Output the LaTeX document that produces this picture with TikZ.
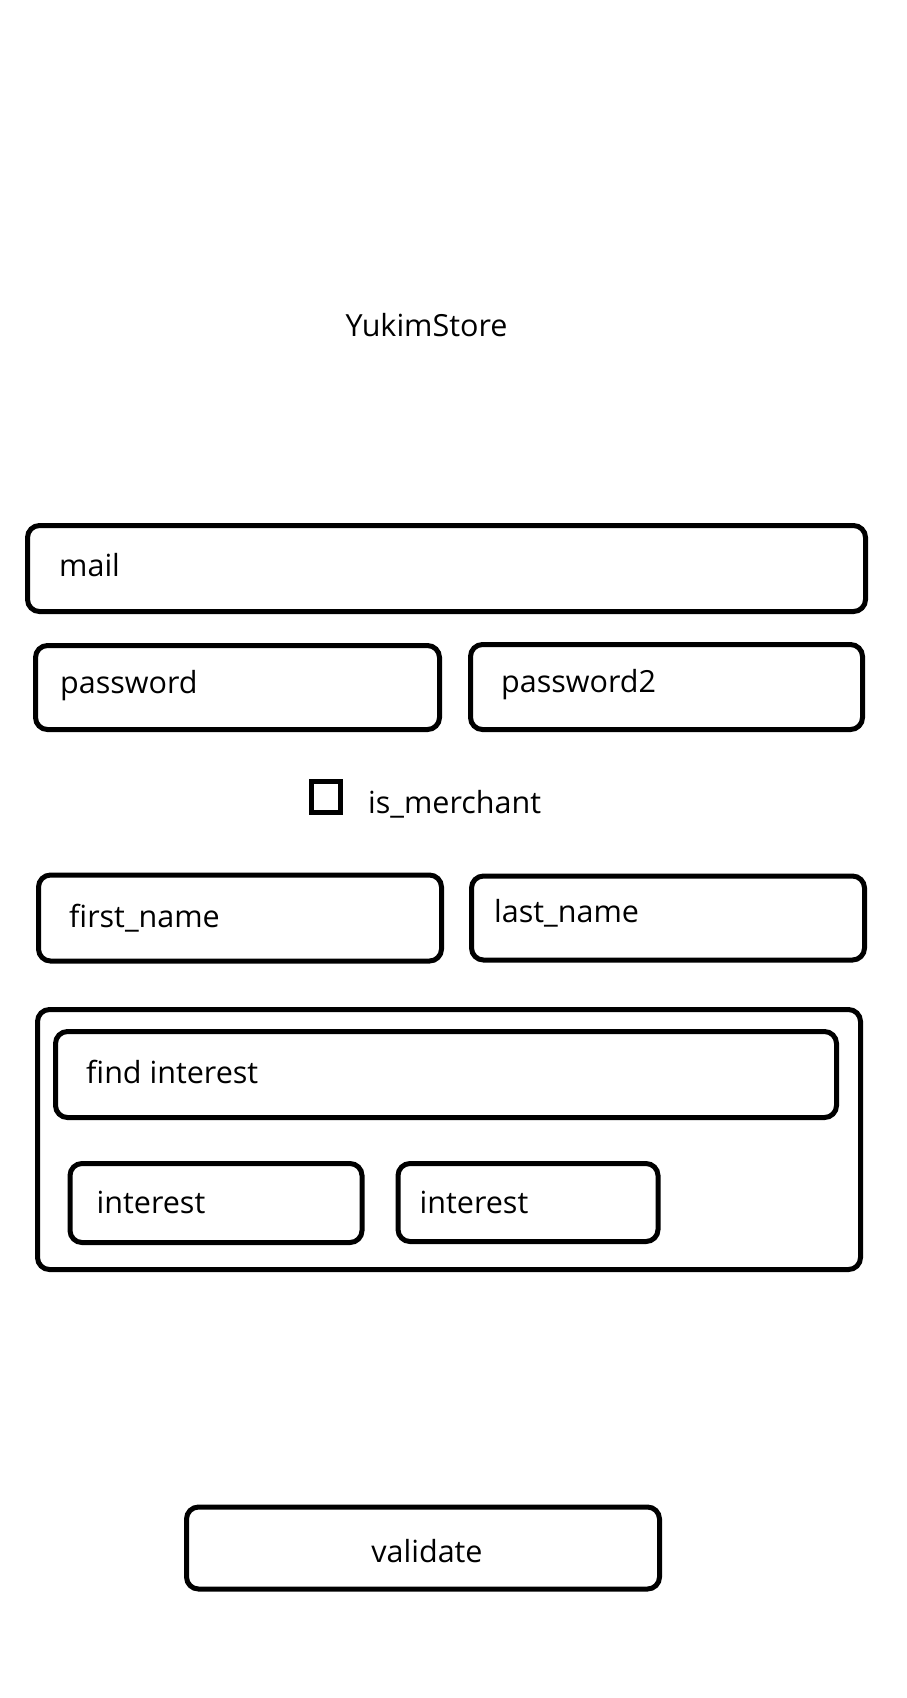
\documentclass[tikz,border=0pt]{standalone}
\usepackage{fontspec}
\setmainfont{Open Sans}
\usetikzlibrary{calc}

\begin{document}
\begin{tikzpicture}[x=1pt,y=-1pt]
\tikzstyle{field}=[draw, line width=5pt, rectangle, rounded corners=12pt, inner sep=0pt, outer sep=0pt]
\tikzstyle{txt}=[anchor=base west, inner sep=0pt, font=\fontsize{30.5}{36}\selectfont]

\useasboundingbox (0,0) rectangle (906,1698);

% Title
\node[txt, anchor=base] (title) at (426.5,336) {YukimStore};

% mail and passwords
\node[field, minimum width=838pt, minimum height=86pt] (mail) at (446.5,568.5) {};
\node[txt] (mailtxt) at ($(mail.west)+(31.5,7.5)$) {mail};
\node[field, minimum width=404pt, minimum height=84pt] (pwd) at (237.5,687.5) {};
\node[txt] (pwdtxt) at ($(pwd.west)+(24.5,5.5)$) {password};
\node[field, minimum width=392pt, minimum height=85pt] (pwdtwo) at (666.5,687) {};
\node[txt] (pwdtwotxt) at ($(pwdtwo.west)+(30.5,5)$) {password2};

% merchant checkbox
\node[field, sharp corners, minimum width=29pt, minimum height=31pt] (merchant) at (326,797) {};
\node[txt] (merchanttxt) at ($(merchant.east)+(27.5,16)$) {is\_merchant};

% names
\node[field, minimum width=403pt, minimum height=86pt] (first) at (240,918) {};
\node[txt] (firsttxt) at ($(first.west)+(30.5,9)$) {first\_name};
\node[field, minimum width=393pt, minimum height=84pt] (last) at (668,918) {};
\node[txt] (lasttxt) at ($(last.west)+(22.5,4.5)$) {last\_name};

% interests
\node[field, minimum width=823pt, minimum height=260pt] (interests) at (449,1139.5) {};
\node[field, minimum width=781pt, minimum height=86pt] (find) at (446,1074.5) {};
\node[txt] (findtxt) at ($(find.west)+(30.5,8.5)$) {find interest};
\node[field, minimum width=292pt, minimum height=79pt] (interestA) at (216,1203) {};
\node[txt] (interestAtxt) at ($(interestA.west)+(26.5,10)$) {interest};
\node[field, minimum width=260pt, minimum height=78pt] (interestB) at (528,1202.5) {};
\node[txt] (interestBtxt) at ($(interestB.west)+(21.5,10.5)$) {interest};

% validate button
\node[field, minimum width=473pt, minimum height=82pt] (validate) at (423,1548) {};
\node[txt, anchor=base] (validatetxt) at ($(validate.center)+(4,14)$) {validate};

\end{tikzpicture}
\end{document}
